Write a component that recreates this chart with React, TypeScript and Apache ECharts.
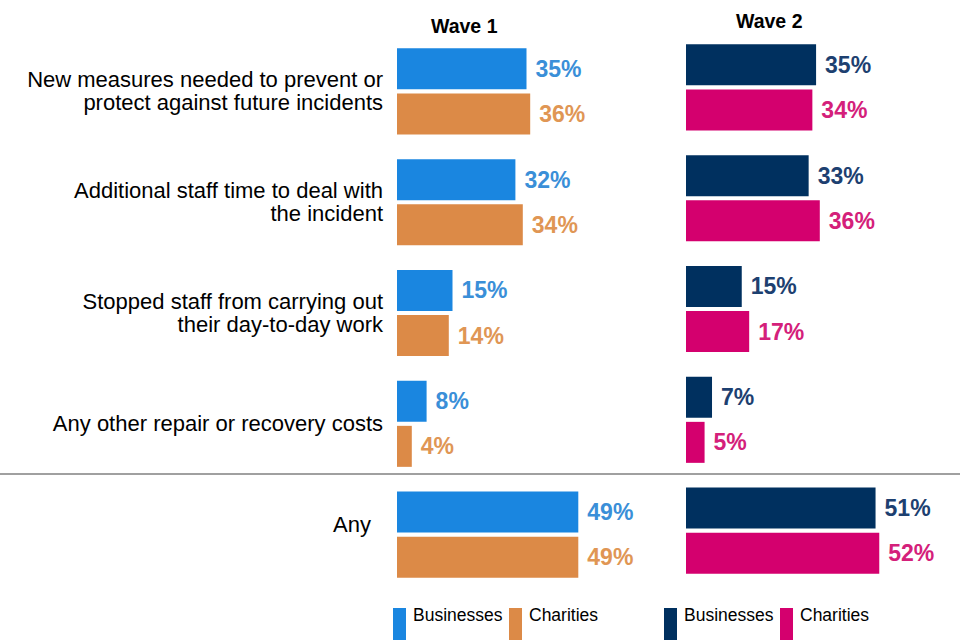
import React, { useEffect, useRef } from "react";
import * as echarts from "echarts";

const categories = [
  "New measures needed to prevent or\nprotect against future incidents",
  "Additional staff time to deal with\nthe incident",
  "Stopped staff from carrying out\ntheir day-to-day work",
  "Any other repair or recovery costs",
  "Any",
];
const wave1Businesses = [35, 32, 15, 8, 49];
const wave1Charities = [36, 34, 14, 4, 49];
const wave2Businesses = [35, 33, 15, 7, 51];
const wave2Charities = [34, 36, 17, 5, 52];
const waveTitles = ["Wave 1", "Wave 2"];
const legendNames = ["Businesses", "Charities"];

const FONT = "Liberation Sans, Arial, sans-serif";

export default function App() {
  const ref = useRef<HTMLDivElement>(null);
  useEffect(() => {
    if (!ref.current) return;
    const chart = echarts.init(ref.current, null, { renderer: "svg" });
    const barSeries = (name: string, data: number[], idx: number, color: string, labelColor: string) => ({
      type: "bar",
      name,
      data,
      xAxisIndex: idx,
      yAxisIndex: idx,
      barWidth: 41,
      barGap: "10%",
      itemStyle: { color },
      label: {
        show: true,
        position: "right",
        distance: 9,
        formatter: "{c}%",
        color: labelColor,
        fontSize: 23,
        fontWeight: "bold",
        fontFamily: FONT,
      },
    });
    const legendItem = (x: number, color: string, text: string) => [
      { type: "rect", shape: { x, y: 608, width: 13, height: 40 }, style: { fill: color } },
      {
        type: "text",
        x: x + 20,
        y: 615,
        style: { text, fill: "#000", font: `17.5px ${FONT}`, verticalAlign: "middle" },
      },
    ];
    chart.setOption({
      animation: false,
      backgroundColor: "#fff",
      title: [
        {
          text: waveTitles[0],
          left: 426,
          top: 11,
          textStyle: { fontSize: 19.5, fontWeight: "bold", color: "#000", fontFamily: FONT },
        },
        {
          text: waveTitles[1],
          left: 731,
          top: 6,
          textStyle: { fontSize: 19.5, fontWeight: "bold", color: "#000", fontFamily: FONT },
        },
      ],
      grid: [
        { left: 397, top: 36, width: 222, height: 554 },
        { left: 686, top: 32, width: 223, height: 554 },
      ],
      xAxis: [
        { type: "value", gridIndex: 0, min: 0, max: 60, show: false },
        { type: "value", gridIndex: 1, min: 0, max: 60, show: false },
      ],
      yAxis: [
        {
          type: "category",
          gridIndex: 0,
          data: categories,
          inverse: true,
          axisLine: { show: false },
          axisTick: { show: false },
          axisLabel: {
            margin: 14,
            color: "#000",
            fontSize: 22,
            lineHeight: 23,
            fontFamily: FONT,
            formatter: (v: string) => (v === "Any" ? "{any|Any}" : v),
            rich: {
              any: { fontSize: 22, fontFamily: FONT, color: "#000", padding: [0, 12, 20, 0] },
            },
          },
        },
        {
          type: "category",
          gridIndex: 1,
          data: categories,
          inverse: true,
          axisLine: { show: false },
          axisTick: { show: false },
          axisLabel: { show: false },
        },
      ],
      series: [
        barSeries("Wave 1 " + legendNames[0], wave1Businesses, 0, "#1a86e0", "#3a8fd8"),
        barSeries("Wave 1 " + legendNames[1], wave1Charities, 0, "#dc8a47", "#e09654"),
        barSeries("Wave 2 " + legendNames[0], wave2Businesses, 1, "#00305f", "#1d4070"),
        barSeries("Wave 2 " + legendNames[1], wave2Charities, 1, "#d4006e", "#d4207a"),
      ],
      graphic: [
        { type: "line", shape: { x1: 0, y1: 474, x2: 960, y2: 474 }, style: { stroke: "#a0a0a0", lineWidth: 2 } },
        ...legendItem(393, "#1a86e0", legendNames[0]),
        ...legendItem(509, "#dc8a47", legendNames[1]),
        ...legendItem(664, "#00305f", legendNames[0]),
        ...legendItem(780, "#d4006e", legendNames[1]),
      ],
    });
    return () => chart.dispose();
  }, []);
  return (
    <div
      ref={ref}
      style={{ position: "fixed", left: 0, top: 0, width: 960, height: 640 }}
    />
  );
}
